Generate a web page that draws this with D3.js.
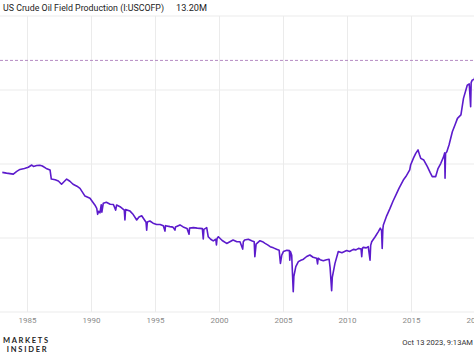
<!DOCTYPE html>
<html>
<head>
<meta charset="utf-8">
<script src="https://cdn.jsdelivr.net/npm/d3@7"></script>
<style>
  html, body { margin: 0; padding: 0; background: #fff; overflow: hidden; }
  svg { display: block; font-family: Roboto, "Noto Sans", sans-serif; }
</style>
</head>
<body>
<svg id="chart" width="474" height="355"></svg>
<script>
// ---- data (decimal year, million barrels per day) ----
const years = [
  1983.07, 1983.4, 1983.93, 1984.2, 1984.45, 1984.8, 1985.1, 1985.37, 1985.5, 1985.76,
  1986.0, 1986.2, 1986.5, 1986.8, 1986.9, 1987.2, 1987.45, 1987.7, 1988.1, 1988.35,
  1988.6, 1988.9, 1989.14, 1989.53, 1989.92, 1990.3, 1990.45, 1990.52, 1990.6, 1990.7,
  1990.8, 1990.85, 1990.96, 1991.2, 1991.5, 1991.75, 1991.93, 1992.0, 1992.27, 1992.6,
  1992.65, 1992.7, 1993.05, 1993.3, 1993.57, 1993.75, 1993.96, 1994.3, 1994.35, 1994.4,
  1994.6, 1994.85, 1995.13, 1995.4, 1995.65, 1995.78, 1995.82, 1996.17, 1996.4, 1996.56,
  1996.6, 1996.95, 1997.2, 1997.5, 1997.66, 1997.7, 1998.0, 1998.3, 1998.5, 1998.7,
  1998.77, 1998.82, 1999.04, 1999.16, 1999.35, 1999.55, 1999.75, 1999.8, 1999.85, 1999.95,
  2000.25, 2000.6, 2000.85, 2001.1, 2001.4, 2001.64, 2001.85, 2001.9, 2002.0, 2002.29,
  2002.55, 2002.75, 2002.8, 2002.9, 2003.2, 2003.4, 2003.6, 2003.8, 2004.0, 2004.25,
  2004.5, 2004.7, 2004.8, 2004.9, 2005.03, 2005.3, 2005.5, 2005.53, 2005.58, 2005.68,
  2005.8, 2005.85, 2006.0, 2006.2, 2006.4, 2006.6, 2006.85, 2007.1, 2007.35, 2007.63,
  2007.7, 2007.75, 2007.9, 2008.15, 2008.4, 2008.6, 2008.68, 2008.8, 2008.85, 2009.06,
  2009.32, 2009.6, 2009.97, 2010.2, 2010.5, 2010.7, 2010.9, 2011.1, 2011.15, 2011.2,
  2011.27, 2011.5, 2011.66, 2011.8, 2011.85, 2011.93, 2012.2, 2012.45, 2012.6, 2012.7,
  2012.75, 2012.8, 2012.84, 2013.1, 2013.36, 2013.6, 2013.88, 2014.06, 2014.4, 2014.6,
  2014.9, 2014.97, 2015.2, 2015.37, 2015.55, 2015.65, 2015.76, 2016.0, 2016.28, 2016.5,
  2016.66, 2016.93, 2017.1, 2017.33, 2017.55, 2017.63, 2017.66, 2017.7, 2017.8, 2017.97,
  2018.23, 2018.45, 2018.63, 2018.9, 2019.1, 2019.4, 2019.55, 2019.66, 2019.7, 2019.78,
  2019.95, 2020.15
];
const production = [
  8.66, 8.63, 8.59, 8.70, 8.78, 8.82, 8.87, 8.96, 8.90, 8.94,
  8.95, 8.92, 8.82, 8.76, 8.39, 8.36, 8.31, 8.18, 8.39, 8.30,
  8.18, 8.10, 8.01, 7.70, 7.61, 7.34, 7.20, 6.96, 7.08, 7.02,
  7.35, 7.05, 7.41, 7.45, 7.37, 7.36, 7.13, 7.34, 7.27, 7.13,
  6.73, 7.15, 7.09, 6.95, 6.73, 6.85, 6.90, 6.64, 6.32, 6.65,
  6.69, 6.60, 6.55, 6.55, 6.50, 6.28, 6.50, 6.46, 6.44, 6.32,
  6.45, 6.53, 6.45, 6.39, 6.15, 6.40, 6.42, 6.40, 6.39, 6.38,
  5.96, 6.35, 6.42, 6.05, 5.95, 5.88, 5.95, 5.72, 5.98, 6.05,
  5.90, 5.78, 5.85, 5.92, 5.85, 5.85, 5.55, 5.85, 5.92, 5.95,
  5.89, 5.85, 5.24, 5.75, 5.89, 5.85, 5.78, 5.72, 5.65, 5.60,
  5.54, 5.50, 4.97, 5.30, 5.45, 5.50, 5.49, 5.10, 5.45, 5.30,
  3.82, 4.45, 4.84, 5.04, 5.10, 5.14, 5.25, 5.31, 5.22, 5.18,
  4.95, 5.18, 5.12, 5.08, 5.12, 5.14, 4.80, 3.86, 4.40, 4.97,
  5.45, 5.40, 5.49, 5.45, 5.54, 5.52, 5.58, 5.55, 5.24, 5.58,
  5.62, 5.60, 5.65, 5.10, 5.70, 5.85, 6.05, 6.26, 6.40, 6.30,
  5.58, 6.35, 6.53, 6.90, 7.20, 7.50, 7.81, 8.01, 8.35, 8.49,
  8.76, 8.96, 9.25, 9.43, 9.57, 9.40, 9.23, 9.16, 8.89, 8.65,
  8.49, 8.49, 8.80, 9.03, 9.30, 9.45, 8.42, 9.43, 9.50, 9.77,
  10.31, 10.60, 10.85, 10.99, 11.66, 12.20, 12.25, 11.32, 12.30, 12.40,
  12.44, 12.90
];
const tickYears = [1985, 1990, 1995, 2000, 2005, 2010, 2015, 2020];
const gridValues = [3, 6, 9, 12, 15];
const latestValue = 13.2;
const titleText = "US Crude Oil Field Production (I:USCOFP)";
const latestLabel = "13.20M";
const stampText = "Oct 13 2023, 9:13AM";

// ---- scales ----
const svg = d3.select("#chart");
const x = d3.scaleLinear().domain([1985, 2020]).range([27, 475]);
const y = d3.scaleLinear().domain([3, 15]).range([312, 16]);

// horizontal grid
svg.append("g").selectAll("line").data(gridValues).join("line")
  .attr("x1", 0).attr("x2", 474)
  .attr("y1", d => y(d)).attr("y2", d => y(d))
  .attr("stroke", "#ebebeb").attr("stroke-width", 1);

// x axis with vertical grid
const xAxis = d3.axisBottom(x).tickValues(tickYears).tickFormat(d3.format("d"))
  .tickSize(-(y(3) - y(15))).tickPadding(5);
const gx = svg.append("g").attr("transform", `translate(0,${y(3)})`).call(xAxis);
gx.select(".domain").remove();
gx.selectAll(".tick line").attr("stroke", "#ebebeb");
gx.selectAll(".tick text").attr("fill", "#8a8a8a").attr("font-size", 8)
  .attr("font-family", "Roboto, sans-serif");

// latest value dashed line
svg.append("line")
  .attr("x1", 0).attr("x2", 474)
  .attr("y1", y(latestValue)).attr("y2", y(latestValue))
  .attr("stroke", "#b48ac2").attr("stroke-width", 1)
  .attr("stroke-dasharray", "3,2");

// main line
const pts = years.map((yr, i) => [yr, production[i]]);
svg.append("path").datum(pts)
  .attr("fill", "none")
  .attr("stroke", "#5c1bcc")
  .attr("stroke-width", 1.6)
  .attr("stroke-linejoin", "round")
  .attr("d", d3.line().x(d => x(d[0])).y(d => y(d[1])));

// title
svg.append("text").attr("x", 3).attr("y", 11)
  .attr("font-size", 9).attr("fill", "#222")
  .attr("textLength", 161).attr("lengthAdjust", "spacingAndGlyphs")
  .text(titleText);
svg.append("text").attr("x", 176).attr("y", 11)
  .attr("font-size", 9.2).attr("fill", "#222")
  .attr("textLength", 31).attr("lengthAdjust", "spacingAndGlyphs")
  .text(latestLabel);

// logo
svg.append("text").attr("x", 3).attr("y", 343)
  .attr("font-size", 7.5).attr("font-weight", "bold").attr("fill", "#222")
  .attr("font-family", "Lato, Roboto, sans-serif")
  .attr("textLength", 45).attr("lengthAdjust", "spacing")
  .text("MARKETS");
svg.append("text").attr("x", 6.7).attr("y", 352)
  .attr("font-size", 7.5).attr("font-weight", "bold").attr("fill", "#222")
  .attr("font-family", "Lato, Roboto, sans-serif")
  .attr("textLength", 40).attr("lengthAdjust", "spacing")
  .text("INSIDER");

// timestamp
svg.append("text").attr("x", 473).attr("y", 345)
  .attr("text-anchor", "end")
  .attr("font-size", 7.6).attr("fill", "#333")
  .text(stampText);
</script>
</body>
</html>
